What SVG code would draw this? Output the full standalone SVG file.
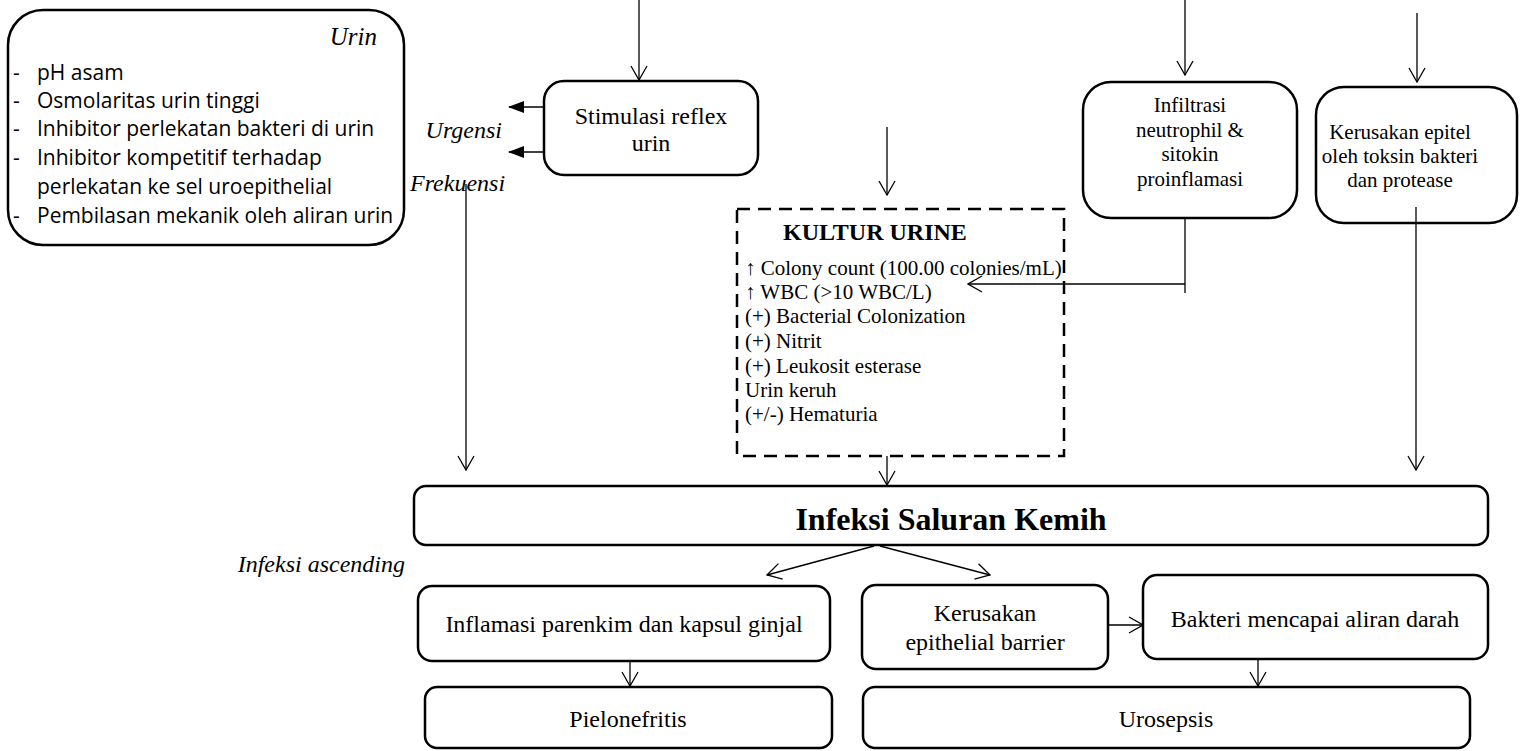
<svg xmlns="http://www.w3.org/2000/svg" width="1522" height="751" viewBox="0 0 1522 751">
<style>
.box{fill:#fff;stroke:#000;stroke-width:2.5}
.dash{fill:none;stroke:#000;stroke-width:2.5;stroke-dasharray:13 8}
.t{font-family:"Liberation Serif","Times New Roman",serif;font-size:21px;fill:#000}
.L{font-size:24px}
.c{text-anchor:middle}
.i{font-style:italic}
.s{font-family:"Open Sans","Liberation Sans",sans-serif;font-size:21px;fill:#000}
.ln{fill:none;stroke:#000;stroke-width:1.3}
</style>
<defs>
<marker id="open" viewBox="0 0 16 18" refX="15" refY="9" markerWidth="16" markerHeight="18" markerUnits="userSpaceOnUse" orient="auto">
<path d="M1,1 L15,9 L1,17" fill="none" stroke="#000" stroke-width="1.3"/>
</marker>
<marker id="fill" viewBox="0 0 16 12" refX="15" refY="6" markerWidth="16" markerHeight="12" markerUnits="userSpaceOnUse" orient="auto">
<path d="M0,0 L16,6 L0,12 Z" fill="#000"/>
</marker>
</defs>

<g id="urin">
<rect class="box" x="8" y="10" width="396" height="235" rx="35"/>
<text class="t i" x="377" y="45" text-anchor="end" style="font-size:25px">Urin</text>
<g class="s">
<text x="13" y="80">-</text><text x="37" y="80">pH asam</text>
<text x="13" y="108">-</text><text x="37" y="108">Osmolaritas urin tinggi</text>
<text x="13" y="136">-</text><text x="37" y="136">Inhibitor perlekatan bakteri di urin</text>
<text x="13" y="165">-</text><text x="37" y="165">Inhibitor kompetitif terhadap</text>
<text x="37" y="194">perlekatan ke sel uroepithelial</text>
<text x="13" y="223">-</text><text x="37" y="223">Pembilasan mekanik oleh aliran urin</text>
</g>
</g>

<g id="stimulasi">
<rect class="box" x="544" y="81" width="214" height="94" rx="20"/>
<text class="t c L" x="651" y="124">Stimulasi reflex</text>
<text class="t c L" x="651" y="151">urin</text>
</g>

<g id="labels">
<text class="t i L" x="502" y="138" text-anchor="end">Urgensi</text>
<text class="t i L" x="410" y="191">Frekuensi</text>
<text class="t i L" x="405" y="572" text-anchor="end">Infeksi ascending</text>
</g>

<g id="infiltrasi">
<rect class="box" x="1083" y="82" width="214" height="136" rx="28"/>
<text class="t c" x="1190" y="112">Infiltrasi</text>
<text class="t c" x="1190" y="137">neutrophil &amp;</text>
<text class="t c" x="1190" y="161">sitokin</text>
<text class="t c" x="1190" y="186">proinflamasi</text>
</g>

<g id="kerusakan-epitel">
<rect class="box" x="1316" y="87" width="201" height="136" rx="28"/>
<text class="t c" x="1400" y="139">Kerusakan epitel</text>
<text class="t c" x="1400" y="163">oleh toksin bakteri</text>
<text class="t c" x="1400" y="187">dan protease</text>
</g>

<g id="kultur">
<rect class="dash" x="737" y="209" width="327" height="247"/>
<text class="t L" x="783" y="240" font-weight="bold">KULTUR URINE</text>
<text class="t" x="745" y="275">↑ Colony count (100.00 colonies/mL)</text>
<text class="t" x="745" y="299">↑ WBC (&gt;10 WBC/L)</text>
<text class="t" x="745" y="323">(+) Bacterial Colonization</text>
<text class="t" x="745" y="348">(+) Nitrit</text>
<text class="t" x="745" y="373">(+) Leukosit esterase</text>
<text class="t" x="745" y="397">Urin keruh</text>
<text class="t" x="745" y="421">(+/-) Hematuria</text>
</g>

<g id="isk">
<rect class="box" x="414" y="486" width="1074" height="59" rx="12"/>
<text class="t c" x="951" y="530" style="font-size:32px;font-weight:bold">Infeksi Saluran Kemih</text>
</g>

<g id="inflamasi">
<rect class="box" x="418" y="586" width="412" height="75" rx="14"/>
<text class="t c L" x="624" y="632">Inflamasi parenkim dan kapsul ginjal</text>
</g>

<g id="pielonefritis">
<rect class="box" x="425" y="687" width="407" height="61" rx="12"/>
<text class="t c L" x="628" y="727">Pielonefritis</text>
</g>

<g id="kerusakan-barrier">
<rect class="box" x="862" y="585" width="246" height="84" rx="14"/>
<text class="t c L" x="985" y="621">Kerusakan</text>
<text class="t c L" x="985" y="650">epithelial barrier</text>
</g>

<g id="bakteri">
<rect class="box" x="1143" y="575" width="345" height="84" rx="14"/>
<text class="t c L" x="1315" y="627">Bakteri mencapai aliran darah</text>
</g>

<g id="urosepsis">
<rect class="box" x="863" y="687" width="607" height="61" rx="12"/>
<text class="t c L" x="1166" y="727">Urosepsis</text>
</g>

<g id="connectors">
<path class="ln" d="M639,0 V80" marker-end="url(#open)"/>
<path class="ln" d="M544,107 H509" marker-end="url(#fill)"/>
<path class="ln" d="M544,152 H509" marker-end="url(#fill)"/>
<path class="ln" d="M466,184 V470" marker-end="url(#open)"/>
<path class="ln" d="M887,127 V195" marker-end="url(#open)"/>
<path class="ln" d="M1185,0 V75" marker-end="url(#open)"/>
<path class="ln" d="M1417,13 V82" marker-end="url(#open)"/>
<path class="ln" d="M1185,218 V293"/>
<path class="ln" d="M1185,284 H968" marker-end="url(#open)"/>
<path class="ln" d="M1416,207 V470" marker-end="url(#open)"/>
<path class="ln" d="M887,456 V485" marker-end="url(#open)"/>
<path class="ln" d="M874,546 L767,575" marker-end="url(#open)"/>
<path class="ln" d="M880,546 L990,575" marker-end="url(#open)"/>
<path class="ln" d="M630,661 V686" marker-end="url(#open)"/>
<path class="ln" d="M1108,625 H1143" marker-end="url(#open)"/>
<path class="ln" d="M1258,659 V686" marker-end="url(#open)"/>
</g>
</svg>
